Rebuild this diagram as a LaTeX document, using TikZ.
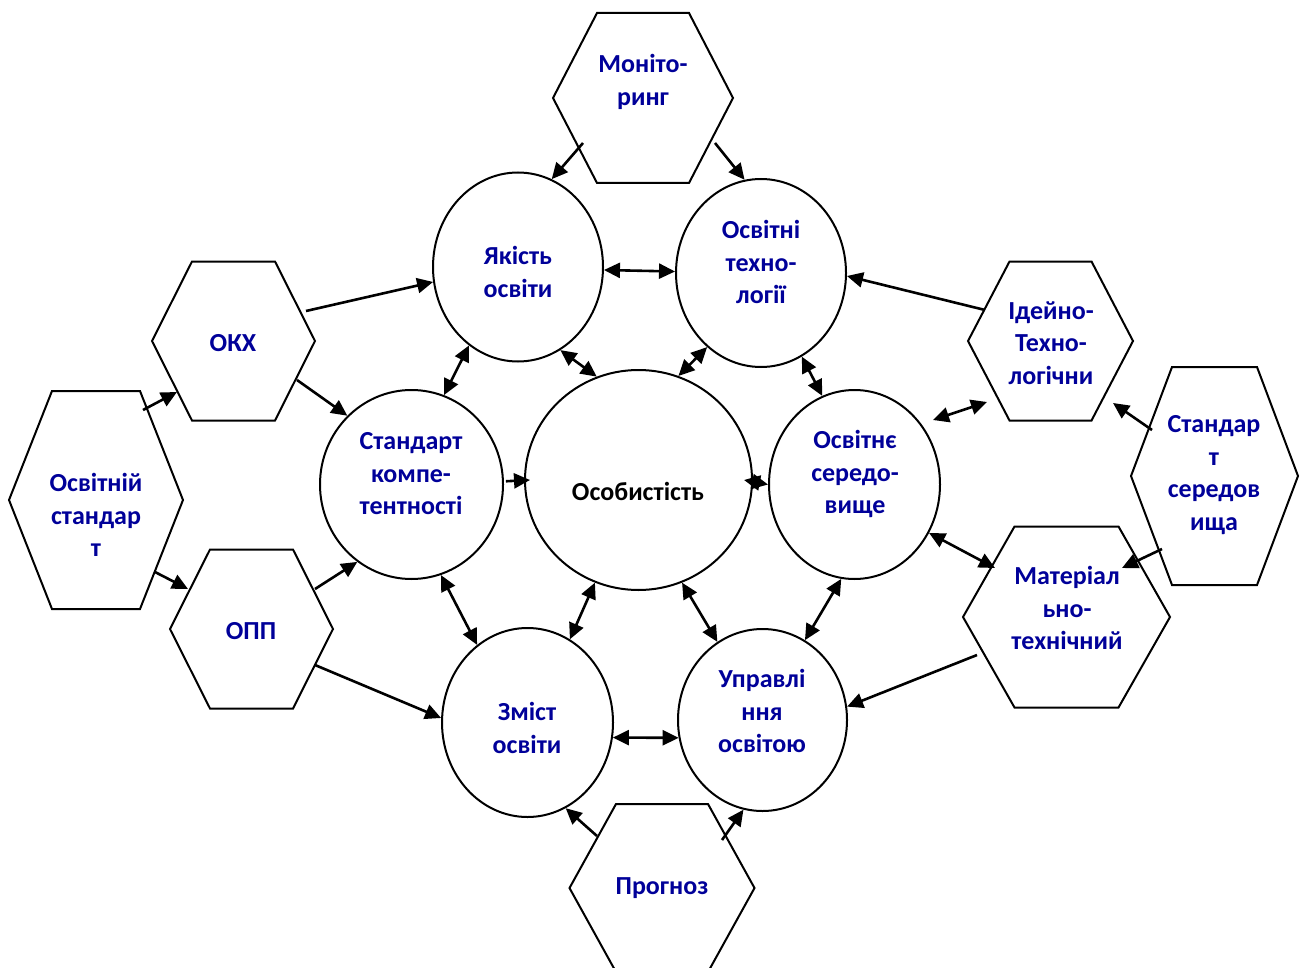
\documentclass[tikz,border=0pt]{standalone}
\usepackage{fontspec}
\setmainfont{Carlito}
\usetikzlibrary{arrows.meta,shapes.geometric}
\definecolor{labelblue}{RGB}{0,0,153}

% hexagon with pointed left/right corners: centre x, centre y, half width, half top width, half height
\newcommand\hexshape[5]{%
  \draw[hexline] (#1-#3,#2) -- (#1-#4,#2-#5) -- (#1+#4,#2-#5) -- (#1+#3,#2)
    -- (#1+#4,#2+#5) -- (#1-#4,#2+#5) -- cycle;}

\begin{document}
\begin{tikzpicture}[x=1pt,y=-1pt,
  hexline/.style={draw=black,line width=2pt,line join=miter},
  ring/.style={ellipse,draw=black,line width=2pt,inner sep=0pt},
  lbl/.style={font=\fontsize{26}{32.5}\selectfont\bfseries,text=labelblue,align=center,inner sep=0pt},
  head/.style={Triangle[length=16pt,width=15pt]},
  oneway/.style={line width=2.6pt,-{Triangle[length=16pt,width=15pt]}},
  twoway/.style={line width=2.6pt,{Triangle[length=16pt,width=15pt]}-{Triangle[length=16pt,width=15pt]}}]
\useasboundingbox (0,0) rectangle (1305,968);

% outer hexagons
\hexshape{643}{98}{90}{46}{85}
\hexshape{233.5}{341}{81.5}{41.5}{79.5}
\hexshape{96}{500}{87}{44}{109}
\hexshape{251.5}{629}{81.5}{41.5}{79.5}
\hexshape{1050.5}{341}{82.5}{41}{79.5}
\hexshape{1214.5}{476}{83.5}{42.5}{109}
\hexshape{1066.5}{617}{103.5}{52}{90.5}
\hexshape{662}{888}{92.5}{46}{84}

% inner circles
\node[ring,minimum width=170pt,minimum height=189pt] (yak) at (518,267) {};
\node[ring,minimum width=170pt,minimum height=188pt] (tech) at (761,273) {};
\node[ring,minimum width=183pt,minimum height=189pt] (komp) at (411.5,484.5) {};
\node[ring,minimum width=227pt,minimum height=220pt] (pers) at (638.5,480) {};
\node[ring,minimum width=171pt,minimum height=189pt] (sered) at (854.5,484.5) {};
\node[ring,minimum width=171pt,minimum height=189pt] (zmist) at (527.5,722.5) {};
\node[ring,minimum width=169pt,minimum height=182pt] (upr) at (762.5,720) {};

% labels
\node[lbl] (monT) at (643,82) {Моніто-\\ринг};
\node[lbl] (okxT) at (233,343) {ОКХ};
\node[lbl] (stdT) at (96,515) {Освітній\\стандар\\т};
\node[lbl] (oppT) at (251,631) {ОПП};
\node[lbl] (ideT) at (1051,343) {Ідейно-\\Техно-\\логічни};
\node[lbl] (ssT) at (1214,475) {Стандар\\т\\середов\\ища};
\node[lbl] (matT) at (1067,608) {Матеріал\\ьно-\\технічний};
\node[lbl] (prgT) at (662,888) {Прогноз};
\node[lbl] (yakT) at (518,272) {Якість\\освіти};
\node[lbl] (techT) at (761,262) {Освітні\\техно-\\логії};
\node[lbl] (kompT) at (411,474) {Стандарт\\компе-\\тентності};
\node[lbl,text=black] (persT) at (638,491) {Особистість};
\node[lbl] (seredT) at (855,474) {Освітнє\\середо-\\вище};
\node[lbl] (zmistT) at (527,728) {Зміст\\освіти};
\node[lbl] (uprT) at (762,711) {Управлі\\ння\\освітою};

% free ends of connectors inside / on the hexagons
\coordinate (monA) at (583,143);
\coordinate (monB) at (715,143);
\coordinate (okxA) at (306,311);
\coordinate (okxB) at (297,380);
\coordinate (okxIn) at (177,392);
\coordinate (stdA) at (143,410);
\coordinate (stdB) at (155,572);
\coordinate (oppIn) at (188,589);
\coordinate (oppA) at (315,589);
\coordinate (oppB) at (315,665);
\coordinate (ideA) at (985,310);
\coordinate (ideIn) at (987,402);
\coordinate (ideIn2) at (1113,403);
\coordinate (seredOut) at (933,420);
\coordinate (ssA) at (1152,430);
\coordinate (ssB) at (1162,549);
\coordinate (matIn) at (1122,568);
\coordinate (matIn2) at (995,568);
\coordinate (matA) at (977,655);
\coordinate (prgA) at (597,836);
\coordinate (prgB) at (722,840);

% connectors
\draw[oneway] (monA) -- (yak.69);
\draw[oneway] (monB) -- (tech.100);
\draw[twoway] (yak.-2) -- (tech.179);
\draw[oneway] (okxA) -- (yak.190);
\draw[oneway] (okxB) -- (komp.133);
\draw[twoway] (yak.-122) -- (komp.70);
\draw[twoway] (yak.-63) -- (pers.112);
\draw[twoway] (tech.-126) -- (pers.69);
\draw[twoway] (tech.-64) -- (sered.110);
\draw[oneway] (ideA) -- (tech.-2);
\draw[twoway] (seredOut) -- (ideIn);
\draw[oneway] (ssA) -- (ideIn2);
\draw[oneway] (ssB) -- (matIn);
\draw[twoway] (sered.-33) -- (matIn2);
\draw[oneway] (matA) -- (upr.9);
\draw[oneway] ([xshift=2pt]komp.2) -- ([xshift=6pt]pers.180);
\draw[twoway] ([xshift=-9pt]pers.0) -- (sered.180);
\draw[oneway] (stdA) -- (okxIn);
\draw[oneway] (stdB) -- (oppIn);
\draw[oneway] (oppA) -- (komp.-125);
\draw[oneway] (oppB) -- (zmist.177);
\draw[twoway] (komp.-72) -- (zmist.123);
\draw[twoway] (pers.-113) -- (zmist.63);
\draw[twoway] (pers.-67) -- (upr.120);
\draw[twoway] (sered.-98) -- (upr.62);
\draw[twoway] (zmist.-10) -- (upr.192);
\draw[oneway] (prgA) -- (zmist.-66);
\draw[oneway] (prgB) -- (upr.-102);
\end{tikzpicture}
\end{document}
